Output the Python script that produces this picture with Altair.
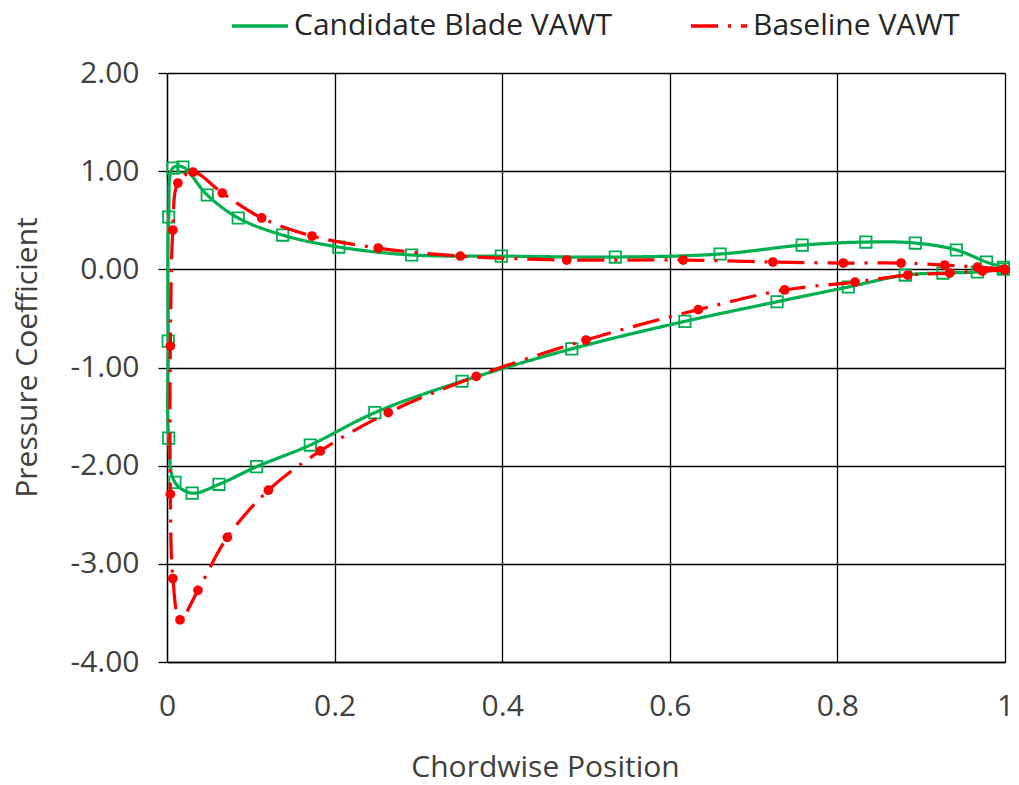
import altair as alt
import pandas as pd

SER_G = "Candidate Blade VAWT"
SER_R = "Baseline VAWT"

# Candidate blade: surface traversal from trailing edge, over upper branch, around LE, back along lower branch
green_x = [0.998, 0.978, 0.942, 0.893, 0.834, 0.758, 0.660, 0.535, 0.399, 0.292, 0.205, 0.138,
           0.085, 0.048, 0.019, 0.007, 0.002, 0.0015, 0.002, 0.0095, 0.030, 0.062, 0.107, 0.171,
           0.248, 0.352, 0.483, 0.618, 0.728, 0.813, 0.881, 0.926, 0.967, 0.998]
green_y = [0.02, 0.074, 0.197, 0.268, 0.278, 0.247, 0.156, 0.125, 0.135, 0.146, 0.227, 0.349,
           0.523, 0.757, 1.042, 1.032, 0.533, -0.731, -1.719, -2.17, -2.28, -2.19, -2.01, -1.79,
           -1.46, -1.14, -0.81, -0.53, -0.33, -0.18, -0.058, -0.038, -0.027, 0.003]

# Baseline blade
red_x = [0.999, 0.967, 0.928, 0.876, 0.807, 0.723, 0.616, 0.477, 0.350, 0.252, 0.173, 0.113,
         0.066, 0.031, 0.013, 0.007, 0.004, 0.004, 0.007, 0.0155, 0.037, 0.072, 0.121, 0.183,
         0.264, 0.369, 0.500, 0.634, 0.737, 0.821, 0.884, 0.934, 0.973, 1.0]
red_y = [0.003, 0.023, 0.044, 0.064, 0.064, 0.074, 0.095, 0.095, 0.135, 0.217, 0.339, 0.523,
         0.777, 0.991, 0.879, 0.400, -0.782, -2.29, -3.15, -3.57, -3.27, -2.73, -2.25, -1.85,
         -1.46, -1.09, -0.72, -0.41, -0.21, -0.13, -0.058, -0.038, -0.017, -0.007]

x_ticks = [0, 0.2, 0.4, 0.6, 0.8, 1]
y_ticks = [-4, -3, -2, -1, 0, 1, 2]

rows = []
for i, (x, y) in enumerate(zip(green_x, green_y)):
    rows.append({"x": x, "y": y, "series": SER_G, "idx": i})
for i, (x, y) in enumerate(zip(red_x, red_y)):
    rows.append({"x": x, "y": y, "series": SER_R, "idx": i})
df = pd.DataFrame(rows)

FONT = "Open Sans"
FS = 30

xenc = alt.X("x:Q", scale=alt.Scale(domain=[0, 1], nice=False, zero=False),
             axis=alt.Axis(values=x_ticks, format=".1~f", title="Chordwise Position",
                           grid=True, ticks=False, tickSize=0, labelPadding=29, labelFlush=False,
                           titleX=378, titleY=105, titleBaseline="middle", titleAlign="center"))
yenc = alt.Y("y:Q", scale=alt.Scale(domain=[-4, 2], nice=False, zero=False),
             axis=alt.Axis(values=y_ticks,
                           labelExpr="replace(format(datum.value, '.2f'), '\u2212', '-')",
                           title="Pressure Coefficient", grid=True, ticks=True, tickSize=9,
                           labelPadding=19, labelFlush=False, titleX=-140, titleY=284, titleAngle=-90,
                           titleBaseline="middle", titleAlign="center"))

color = alt.Color("series:N", scale=alt.Scale(domain=[SER_G, SER_R], range=["#00B050", "#FF0000"]),
                  legend=alt.Legend(title=None))
dash = alt.StrokeDash("series:N", scale=alt.Scale(domain=[SER_G, SER_R], range=[[1, 0], [27, 10, 3, 10]]),
                      legend=alt.Legend(title=None))

base = alt.Chart(df)

g_line = base.transform_filter(alt.datum.series == SER_G).mark_line(
    strokeWidth=3.25, interpolate="catmull-rom").encode(
    x=xenc, y=yenc, color=color, strokeDash=dash, order=alt.Order("idx:Q"))
g_pts = base.transform_filter(alt.datum.series == SER_G).mark_point(
    shape="square", filled=False, color="#00B050", size=130, strokeWidth=1.8, opacity=1).encode(
    x="x:Q", y="y:Q")
r_line = base.transform_filter(alt.datum.series == SER_R).mark_line(
    strokeWidth=3.25, interpolate="catmull-rom").encode(
    x=xenc, y=yenc, color=color, strokeDash=dash, order=alt.Order("idx:Q"))
r_pts = base.transform_filter(alt.datum.series == SER_R).mark_circle(
    color="#FF0000", size=95, opacity=1).encode(x="x:Q", y="y:Q")

chart = alt.layer(g_line, g_pts, r_line, r_pts).properties(
    width=838, height=589,
    padding={"left": 167, "top": 73, "right": 14, "bottom": 123},
    autosize=alt.AutoSizeParams(type="none"),
    background="white",
).configure_view(stroke=None).configure_axis(
    gridColor="#000000", gridWidth=1.3, gridOpacity=1,
    domainColor="#000000", domainWidth=1.3,
    tickColor="#000000", tickWidth=1.3,
    labelFont=FONT, labelFontSize=FS, labelColor="#404040",
    titleFont=FONT, titleFontSize=FS, titleColor="#404040", titleFontWeight="normal",
).configure_legend(
    orient="none", legendX=63, legendY=-77, direction="horizontal", columns=2,
    columnPadding=72, labelFont=FONT, labelFontSize=FS, labelColor="#262626",
    symbolType="stroke", symbolSize=3136, symbolStrokeWidth=3.5, labelOffset=4,
    labelLimit=1000,
)

chart.save("out.html", embed_options={"renderer": "svg", "actions": False})
